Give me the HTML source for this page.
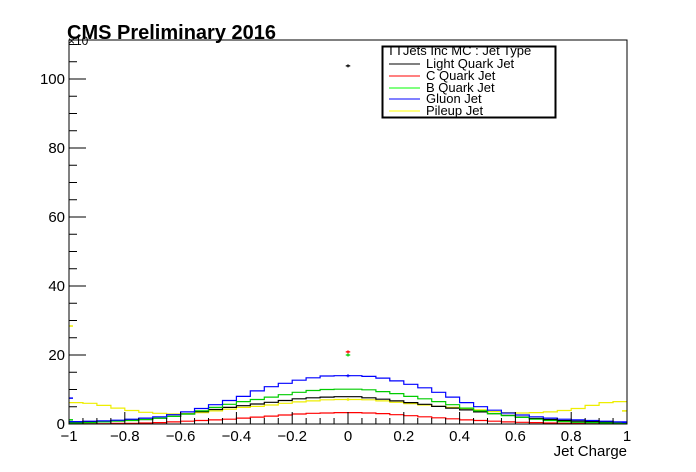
<!DOCTYPE html>
<html><head><meta charset="utf-8"><style>
html,body{margin:0;padding:0;background:#fff;}
svg{display:block;font-family:"Liberation Sans",Arial,sans-serif;}
</style></head><body>
<svg id="c" width="696" height="472" viewBox="0 0 696 472">
<rect width="696" height="472" fill="#fff"/>
<g id="plot"></g>
<rect x="69" y="40" width="558" height="384" fill="none" stroke="#000" stroke-width="1"/>
<g id="axes"></g>
<text x="67" y="39" font-size="20" font-weight="bold">CMS Preliminary 2016</text>
<text x="68" y="45" font-size="12">×10</text>
<text x="627" y="456" font-size="15" text-anchor="end">Jet Charge</text>
<g>
<rect x="382.5" y="46.5" width="173" height="71" fill="#fff" stroke="#000" stroke-width="2"/>
<text x="387" y="55" font-size="13">TTJets Inc MC : Jet Type</text>
<g><line x1="389" y1="64" x2="420" y2="64" stroke="#000"/><text x="426" y="68" font-size="13">Light Quark Jet</text></g>
<g><line x1="389" y1="76" x2="420" y2="76" stroke="#f00"/><text x="426" y="80" font-size="13">C Quark Jet</text></g>
<g><line x1="389" y1="88" x2="420" y2="88" stroke="#0f0"/><text x="426" y="92" font-size="13">B Quark Jet</text></g>
<g><line x1="389" y1="99" x2="420" y2="99" stroke="#00f"/><text x="426" y="103" font-size="13">Gluon Jet</text></g>
<g><line x1="389" y1="111" x2="420" y2="111" stroke="#ff0"/><text x="426" y="115" font-size="13">Pileup Jet</text></g>
</g>
</svg>
<script>
const binCenters=[-0.975,-0.925,-0.875,-0.825,-0.775,-0.725,-0.675,-0.625,-0.575,-0.525,-0.475,-0.425,-0.375,-0.325,-0.275,-0.225,-0.175,-0.125,-0.075,-0.025,0.025,0.075,0.125,0.175,0.225,0.275,0.325,0.375,0.425,0.475,0.525,0.575,0.625,0.675,0.725,0.775,0.825,0.875,0.925,0.975];
const lightValues=[0.5,0.6,0.7,0.9,1.1,1.3,1.7,2.2,2.9,3.6,4.2,4.8,5.3,5.8,6.3,6.8,7.3,7.6,7.8,7.9,7.9,7.6,7.2,6.7,6.2,5.7,5.1,4.6,4.1,3.5,3.0,2.5,2.0,1.6,1.3,1.0,0.8,0.7,0.6,0.5];
const cValues=[0.1,0.1,0.1,0.2,0.2,0.3,0.4,0.6,0.8,1.0,1.2,1.4,1.7,2.0,2.3,2.6,2.9,3.1,3.2,3.3,3.3,3.2,3.0,2.7,2.4,2.1,1.8,1.5,1.2,1.0,0.8,0.6,0.5,0.4,0.3,0.2,0.2,0.1,0.1,0.1];
const bValues=[0.3,0.4,0.6,0.8,1.0,1.3,1.7,2.2,2.9,3.8,4.8,5.7,6.5,7.1,7.8,8.5,9.2,9.7,10.0,10.1,10.1,9.9,9.4,8.8,8.0,7.3,6.5,5.6,4.6,3.8,3.0,2.4,1.9,1.4,1.0,0.7,0.5,0.4,0.3,0.2];
const gluonValues=[0.7,0.8,0.9,1.1,1.4,1.7,2.1,2.7,3.5,4.5,5.6,6.8,8.0,9.6,10.8,11.8,12.7,13.4,13.9,14.0,14.0,13.8,13.3,12.5,11.5,10.5,9.2,7.8,6.2,5.0,4.0,3.2,2.6,2.1,1.7,1.4,1.2,1.0,0.8,0.6];
const pileupValues=[6.2,6.0,5.4,4.6,3.9,3.4,3.1,2.9,3.0,3.3,3.8,4.3,4.8,5.1,5.5,6.0,6.4,6.7,7.0,7.1,7.1,7.0,6.7,6.3,5.9,5.5,5.1,4.8,4.5,4.1,3.6,3.3,3.2,3.3,3.5,3.9,4.5,5.4,6.2,6.5];
const spikeValues=[103.8,20.9,20.0,14.0,7.1];
const edgeLeftValues=[0.5,0.2,1.2,7.5,28.4];
const edgeRightValues=[0.4,0.1,0.2,0.5,3.8];
const seriesColors=["#000","#f00","#0c0","#00f","#ee0"];
const seriesNames=["light-quark","c-quark","b-quark","gluon","pileup"];
const xTicks=[-1,-0.8,-0.6,-0.4,-0.2,0,0.2,0.4,0.6,0.8,1];
const xTickLabels=["−1","−0.8","−0.6","−0.4","−0.2","0","0.2","0.4","0.6","0.8","1"];
const yTicks=[0,20,40,60,80,100];
const yTickLabels=["0","20","40","60","80","100"];
const X0=69,X1=627,Y0=424,YT=40,YMAX=111.3,BW=0.05;
const sx=v=>X0+(v+1)/2*(X1-X0);
const sy=v=>Y0-v/YMAX*(Y0-YT);
const NS="http://www.w3.org/2000/svg";
function mk(tag,attrs,parent){const e=document.createElementNS(NS,tag);for(const k in attrs)e.setAttribute(k,attrs[k]);parent.appendChild(e);return e;}
const plot=document.getElementById('plot'),axes=document.getElementById('axes');
const all=[lightValues,cValues,bValues,gluonValues,pileupValues];
const order=[4,1,0,2,3];
order.forEach(si=>{
  const vals=all[si];
  let d="";
  vals.forEach((v,i)=>{const a=sx(binCenters[i]-BW/2),b=sx(binCenters[i]+BW/2),y=sy(v);d+=(i?"L":"M")+a.toFixed(1)+","+y.toFixed(1)+"L"+b.toFixed(1)+","+y.toFixed(1);});
  const p=mk('path',{d:d,fill:"none",stroke:seriesColors[si],"stroke-width":1.2},plot);
  
  
  const sp=mk('path',{d:"M"+sx(-0.008)+","+sy(spikeValues[si])+"H"+sx(0.008)+"M"+sx(0)+","+(sy(spikeValues[si])-1.5)+"V"+(sy(spikeValues[si])+1.5),stroke:seriesColors[si],"stroke-width":1.2},plot);
  
  
  const el=mk('line',{x1:X0,x2:X0+4,y1:sy(edgeLeftValues[si]),y2:sy(edgeLeftValues[si]),stroke:seriesColors[si],"stroke-width":1.5},plot);
  
  
  const er=mk('line',{x1:X1-5,x2:X1,y1:sy(edgeRightValues[si]),y2:sy(edgeRightValues[si]),stroke:seriesColors[si],"stroke-width":1.5},plot);
  
  
});
for(let v=-1;v<=1.0001;v+=0.05){const major=Math.abs(Math.round(v*5)-v*5)<1e-6;const x=sx(v);
  const t=mk('line',{x1:x,x2:x,y1:Y0,y2:Y0-(major?12:6),stroke:"#000"},axes);
  
  }
xTicks.forEach((v,i)=>{const t=mk('text',{x:sx(v),y:441,"font-size":15,"text-anchor":"middle"},axes);t.textContent=xTickLabels[i];
  
  });
for(let v=0;v<=YMAX;v+=5){const major=v%20===0;const y=sy(v);
  const t=mk('line',{x1:X0,x2:X0+(major?17:8),y1:y,y2:y,stroke:"#000"},axes);
  
  }
yTicks.forEach((v,i)=>{const t=mk('text',{x:65,y:sy(v)+5,"font-size":15,"text-anchor":"end"},axes);t.textContent=yTickLabels[i];
  
  });
</script>
</body></html>
